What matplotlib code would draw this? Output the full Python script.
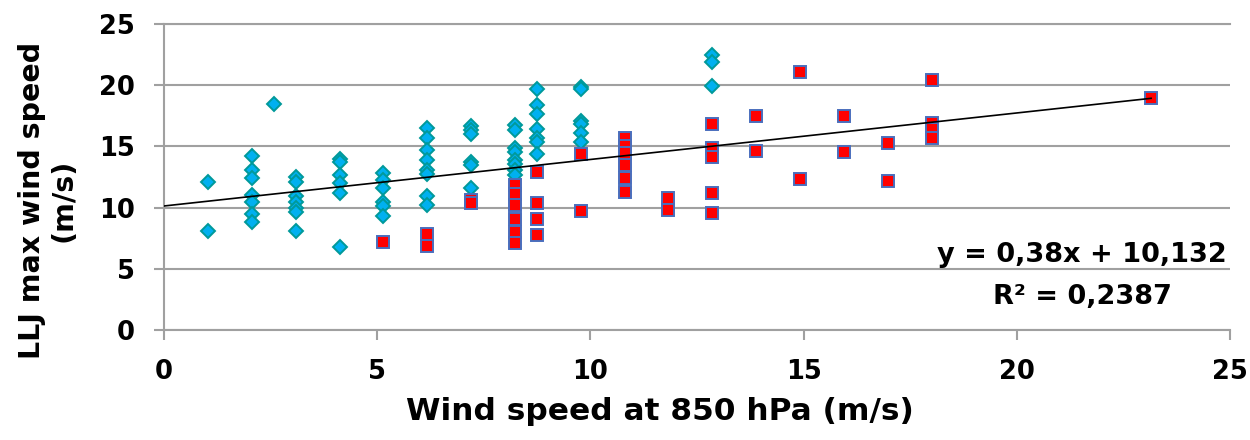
import matplotlib
matplotlib.use("Agg")
import matplotlib.pyplot as plt
import numpy as np

# ---- data ----
# series 1: cyan diamonds
dia_x = [1.03, 1.03,
         2.06, 2.06, 2.06, 2.06, 2.06, 2.06, 2.06,
         2.57,
         3.09, 3.09, 3.09, 3.09, 3.09, 3.09, 3.09,
         4.12, 4.12, 4.12, 4.12, 4.12, 4.12,
         5.14, 5.14, 5.14, 5.14, 5.14, 5.14,
         6.17, 6.17, 6.17, 6.17, 6.17, 6.17, 6.17, 6.17,
         7.20, 7.20, 7.20, 7.20, 7.20, 7.20,
         8.23, 8.23, 8.23, 8.23, 8.23, 8.23, 8.23, 8.23,
         8.75, 8.75, 8.75, 8.75, 8.75, 8.75, 8.75,
         9.77, 9.77, 9.77, 9.77, 9.77, 9.77,
         12.86, 12.86, 12.86]
dia_y = [12.07, 8.11,
         14.2, 13.07, 12.4, 11.03, 10.48, 9.5, 8.85,
         18.5,
         12.5, 12.1, 10.95, 10.45, 10.0, 9.6, 8.07,
         13.94, 13.75, 12.66, 12.0, 11.17, 6.81,
         12.8, 12.28, 11.58, 10.44, 10.14, 9.33,
         16.48, 15.7, 14.71, 13.9, 13.07, 12.73, 10.96, 10.21,
         16.7, 16.34, 16.01, 13.7, 13.44, 11.58,
         16.75, 16.34, 14.9, 14.57, 13.85, 13.6, 13.07, 12.7,
         19.69, 18.38, 17.62, 16.4, 15.66, 15.38, 14.35,
         19.88, 19.66, 17.1, 16.8, 16.1, 15.4,
         22.47, 21.92, 19.96]

# series 2: red squares
sq_x = [5.14,
        6.17, 6.17,
        7.20, 7.20,
        8.23, 8.23, 8.23, 8.23, 8.23, 8.23,
        8.75, 8.75, 8.75, 8.75,
        9.77, 9.77,
        10.80, 10.80, 10.80, 10.80, 10.80, 10.80,
        11.83, 11.83,
        12.86, 12.86, 12.86, 12.86, 12.86,
        13.89, 13.89,
        14.92, 14.92,
        15.95, 15.95,
        16.98, 16.98,
        18.00, 18.00, 18.00, 18.00,
        23.15]
sq_y = [7.22,
        7.87, 6.9,
        10.6, 10.4,
        11.85, 11.1, 10.21, 9.1, 8.03, 7.08,
        12.93, 10.4, 9.08, 7.76,
        14.4, 9.74,
        15.66, 15.0, 14.43, 13.48, 12.39, 11.3,
        10.81, 9.8,
        16.83, 14.84, 14.16, 11.17, 9.53,
        17.48, 14.65,
        21.11, 12.36,
        17.48, 14.57,
        15.25, 12.2,
        20.42, 16.88, 16.4, 15.66,
        18.98]

trend_slope = 0.38
trend_intercept = 10.132
trend_text = ["y = 0,38x + 10,132", "R² = 0,2387"]

x_ticks = [0, 5, 10, 15, 20, 25]
y_ticks = [0, 5, 10, 15, 20, 25]
x_label = "Wind speed at 850 hPa (m/s)"
y_label = "LLJ max wind speed\n(m/s)"

# ---- style ----
W, H = 1250, 440
GRID = "#A0A0A0"
FONT = "DejaVu Sans"

fig = plt.figure(figsize=(W / 100, H / 100), dpi=100)
ax = fig.add_axes([164 / W, 1 - 330 / H, 1066 / W, 306 / H])
ax.set_xlim(0, 25)
ax.set_ylim(0, 25)
ax.set_xticks(x_ticks)
ax.set_yticks(y_ticks)
ax.set_xticklabels([str(t) for t in x_ticks], fontfamily=FONT, fontweight="bold", fontsize=18.5)
ax.set_yticklabels([str(t) for t in y_ticks], fontfamily=FONT, fontweight="bold", fontsize=18.5)

ax.yaxis.grid(True, color=GRID, lw=1.5)
ax.set_axisbelow(True)
ax.spines["right"].set_visible(False)
for s in ["left", "bottom", "top"]:
    ax.spines[s].set_color(GRID)
    ax.spines[s].set_linewidth(1.5)
ax.tick_params(axis="both", direction="out", length=7, width=1.5, color=GRID)
ax.tick_params(axis="x", pad=14)
ax.tick_params(axis="y", pad=14)

ax.plot(dia_x, dia_y, linestyle="none", marker="D", ms=7.2, mfc="#00B0F0",
        mec="#00999A", mew=1.4, zorder=3, clip_on=False)
ax.plot(sq_x, sq_y, linestyle="none", marker="s", ms=8.3, mfc="#FF0000",
        mec="#4A6EBD", mew=1.4, zorder=4, clip_on=False)

tx = np.array([0, max(sq_x + dia_x)])
ax.plot(tx, trend_slope * tx + trend_intercept, color="black", lw=1.2, zorder=5)

fig.text(1082 / W, 1 - 262 / H, trend_text[0], ha="center", va="baseline",
         fontfamily=FONT, fontweight="bold", fontsize=19.5)
fig.text(1082 / W, 1 - 304 / H, trend_text[1], ha="center", va="baseline",
         fontfamily=FONT, fontweight="bold", fontsize=19.5)

fig.text(660 / W, 1 - 411 / H, x_label, ha="center", va="center",
         fontfamily=FONT, fontweight="bold", fontsize=22.5)
fig.text(48 / W, 1 - 200 / H, y_label, ha="center", va="center", rotation=90,
         multialignment="center", linespacing=1.15,
         fontfamily=FONT, fontweight="bold", fontsize=20.5)

fig.savefig("out.png", dpi=100)
